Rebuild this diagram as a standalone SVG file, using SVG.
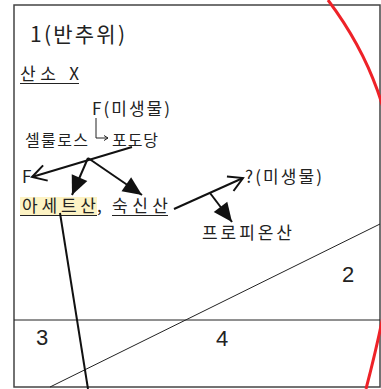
<svg xmlns="http://www.w3.org/2000/svg" width="381" height="389" viewBox="0 0 381 389">
<style>
.t{font-family:"Noto Sans CJK KR","Noto Sans",sans-serif;fill:#222;font-size:16px}
.m{font-size:17px}
.big{font-size:21px}
.n{font-family:"Liberation Sans","Noto Sans",sans-serif;fill:#222;font-size:22px}
.ln{stroke:#111;stroke-width:2;fill:none}
.thin{stroke:#222;stroke-width:1;fill:none}
.ul{stroke:#222;stroke-width:1.2}
</style>
<defs>
<marker id="open" viewBox="-17 -10 19 20" markerWidth="19" markerHeight="20" refX="0" refY="0" orient="auto" markerUnits="userSpaceOnUse">
<path d="M-14,-8 L0,0 L-14,8" fill="none" stroke="#111" stroke-width="2"/>
</marker>
<marker id="fill" viewBox="-20 -10 21 20" markerWidth="21" markerHeight="20" refX="0" refY="0" orient="auto" markerUnits="userSpaceOnUse">
<path d="M-19,-8.5 L0,0 L-19,8.5 Z" fill="#111"/>
</marker>
<marker id="small" viewBox="-6 -4 7 8" markerWidth="7" markerHeight="8" refX="0" refY="0" orient="auto" markerUnits="userSpaceOnUse">
<path d="M-4,-2.5 L0,0 L-4,2.5" fill="none" stroke="#222" stroke-width="1"/>
</marker>
</defs>
<rect x="0" y="0" width="381" height="389" fill="#fff"/>
<g id="frame">
<rect x="14" y="5" width="366" height="382" fill="none" stroke="#444" stroke-width="1.5"/>
<line x1="14" y1="320" x2="380" y2="320" class="thin"/>
<line x1="50" y1="387" x2="380" y2="224" class="thin"/>
</g>
<g id="title"><text class="t big" x="30" y="42" textLength="95" lengthAdjust="spacing">1(반추위)</text></g>
<g id="oxygen"><text class="t m" x="20" y="80" textLength="59" lengthAdjust="spacing">산소 X</text><line class="ul" x1="20" y1="83.5" x2="79" y2="83.5"/></g>
<g id="microbe1"><text class="t m" x="92" y="115" textLength="78" lengthAdjust="spacing">F(미생물)</text></g>
<g id="cellulose"><text class="t" x="25" y="146" textLength="63" lengthAdjust="spacing">셀룰로스</text></g>
<g id="glucose"><text class="t" x="112" y="146" textLength="46" lengthAdjust="spacing">포도당</text></g>
<g id="F"><text class="t m" x="22" y="183">F</text></g>
<g id="acetic">
<rect x="20" y="197" width="77" height="19" fill="#fdf3c4"/>
<text class="t m" x="22" y="212" textLength="74" lengthAdjust="spacing">아세트산</text>
<line class="ul" x1="20" y1="215.5" x2="97" y2="215.5"/>
<text class="t m" x="97" y="212">,</text>
</g>
<g id="succinic"><text class="t m" x="112" y="212" textLength="56" lengthAdjust="spacing">숙신산</text><line class="ul" x1="112" y1="215.5" x2="168" y2="215.5"/></g>
<g id="microbe2"><text class="t m" x="245" y="183" textLength="77" lengthAdjust="spacing">?(미생물)</text></g>
<g id="propionic"><text class="t m" x="202" y="239" textLength="90" lengthAdjust="spacing">프로피온산</text></g>
<g id="region2"><text class="n" x="342" y="282">2</text></g>
<g id="region3"><text class="n" x="36" y="345">3</text></g>
<g id="region4"><text class="n" x="216" y="346">4</text></g>
<g id="connectors">
<polyline class="thin" points="96,118 96,138 108,138" marker-end="url(#small)"/>
<line class="ln" x1="132" y1="147" x2="32" y2="177" marker-end="url(#open)"/>
<line class="ln" x1="88" y1="158" x2="72" y2="195" marker-end="url(#fill)"/>
<line class="ln" x1="88" y1="158" x2="142" y2="195" marker-end="url(#fill)"/>
<line class="ln" x1="174" y1="209" x2="243" y2="178" marker-end="url(#open)"/>
<line class="ln" x1="210" y1="193" x2="232" y2="222" marker-end="url(#fill)"/>
<line class="ln" x1="60" y1="213" x2="88" y2="389"/>
</g>
<g id="boundary">
<path d="M328,0 C418,120 405,239 366,389" fill="none" stroke="#ee2228" stroke-width="3"/>
</g>
</svg>
